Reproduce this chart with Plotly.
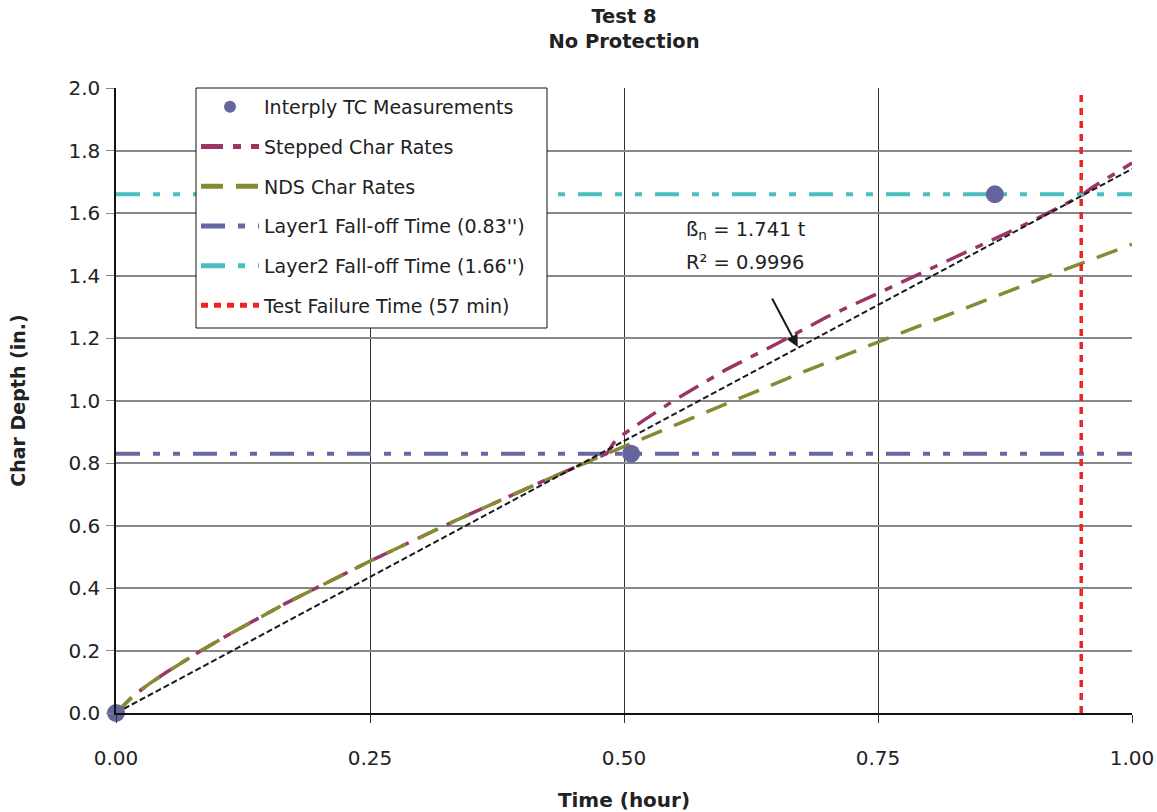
import plotly.graph_objects as go

# ---------------- data ----------------
tc_time = [0.0, 0.507, 0.865]
tc_depth = [0.0, 0.83, 1.66]

nds_time = [0.0, 0.017, 0.033, 0.05, 0.083, 0.117, 0.167, 0.25, 0.333, 0.417,
            0.483, 0.5, 0.583, 0.667, 0.75, 0.833, 0.917, 1.0]
nds_depth = [0.0, 0.055, 0.094, 0.131, 0.198, 0.262, 0.351, 0.486, 0.614, 0.737,
             0.83, 0.853, 0.967, 1.079, 1.187, 1.293, 1.398, 1.5]

step_time = [0.0, 0.017, 0.033, 0.05, 0.083, 0.117, 0.167, 0.25, 0.333, 0.417,
             0.483, 0.49, 0.5, 0.52, 0.55, 0.6, 0.65, 0.7, 0.75, 0.8, 0.85,
             0.9, 0.95, 0.96, 0.97, 1.0]
step_depth = [0.0, 0.055, 0.094, 0.131, 0.198, 0.262, 0.351, 0.486, 0.614, 0.737,
              0.83, 0.865, 0.893, 0.938, 1.002, 1.098, 1.181, 1.268, 1.343, 1.419,
              1.497, 1.571, 1.655, 1.68, 1.70, 1.76]

fit_time = [0.0, 1.0]
fit_depth = [0.0, 1.741]

layer1_depth = 0.83
layer2_depth = 1.66
failure_time = 0.95
x_range = [0.0, 1.0]
y_range = [0.0, 2.0]

x_ticks = [0.0, 0.25, 0.5, 0.75, 1.0]
x_tick_labels = ["0.00", "0.25", "0.50", "0.75", "1.00"]
y_ticks = [0.0, 0.2, 0.4, 0.6, 0.8, 1.0, 1.2, 1.4, 1.6, 1.8, 2.0]
y_tick_labels = ["0.0", "0.2", "0.4", "0.6", "0.8", "1.0", "1.2", "1.4", "1.6", "1.8", "2.0"]

# ---------------- styles ----------------
FONT = "DejaVu Sans"
C_MARK = "#65659e"
C_STEP = "#9c3468"
C_NDS = "#878a32"
C_L1 = "#6767a2"
C_L2 = "#4bbfbf"
C_FAIL = "#ee2222"

fig = go.Figure()

fig.add_trace(go.Scatter(
    x=step_time, y=step_depth, mode="lines", name="Stepped Char Rates",
    line=dict(color=C_STEP, width=3.5, dash="22px,10px,8px,10px"),
    legendrank=2, legendgroup="g2"))

fig.add_trace(go.Scatter(
    x=nds_time, y=nds_depth, mode="lines", name="NDS Char Rates",
    line=dict(color=C_NDS, width=3.5, dash="22px,13px"),
    legendrank=3, legendgroup="g3"))

fig.add_trace(go.Scatter(
    x=x_range, y=[layer1_depth, layer1_depth], mode="lines",
    name="Layer1 Fall-off Time (0.83'')",
    line=dict(color=C_L1, width=4, dash="24px,13px,7px,13px,7px,13px"),
    legendrank=4, legendgroup="g4"))

fig.add_trace(go.Scatter(
    x=x_range, y=[layer2_depth, layer2_depth], mode="lines",
    name="Layer2 Fall-off Time (1.66'')",
    line=dict(color=C_L2, width=4, dash="24px,13px,7px,13px,7px,13px"),
    legendrank=5, legendgroup="g5"))

fig.add_trace(go.Scatter(
    x=[failure_time, failure_time], y=[0.0, 1.98], mode="lines",
    name="Test Failure Time (57 min)",
    line=dict(color=C_FAIL, width=3.5, dash="7px,6px"),
    legendrank=6, legendgroup="g6"))

fig.add_trace(go.Scatter(
    x=fit_time, y=fit_depth, mode="lines", showlegend=False,
    line=dict(color="#1a1a1a", width=2, dash="6px,3px")))

fig.add_trace(go.Scatter(
    x=tc_time, y=tc_depth, mode="markers", name="Interply TC Measurements",
    marker=dict(color=C_MARK, size=18), cliponaxis=False,
    legendrank=1, legendgroup="g1"))

# annotations
fig.add_annotation(x=0.559, y=(713 - 230) / 312.5, xref="x", yref="y", xanchor="left",
                   text="ß<sub>n</sub> = 1.741 t", showarrow=False,
                   font=dict(family=FONT, size=19.5, color="#222222"))
fig.add_annotation(x=0.559, y=(713 - 262) / 312.5, xref="x", yref="y", xanchor="left",
                   text="R² = 0.9996", showarrow=False,
                   font=dict(family=FONT, size=19.5, color="#222222"))
fig.add_annotation(x=0.671, y=1.171, ax=0.645, ay=1.331, xref="x", yref="y",
                   axref="x", ayref="y", text="", showarrow=True,
                   arrowhead=2, arrowsize=1.2, arrowwidth=2, arrowcolor="#1a1a1a")

# legend frame (white box with black border) drawn under the legend entries
fig.add_shape(type="rect", xref="paper", yref="paper",
              x0=(196 - 116) / 1016, x1=(547 - 116) / 1016,
              y0=(713 - 328) / 625, y1=1.0,
              line=dict(color="#111111", width=1), fillcolor="white", layer="above")

fig.update_layout(
    width=1157, height=812,
    margin=dict(l=116, r=25, t=88, b=99, autoexpand=False),
    paper_bgcolor="white", plot_bgcolor="white",
    font=dict(family=FONT, size=19, color="#222222"),
    title=dict(text="<b>Test 8</b><br><b>No Protection</b>",
               x=0.5, xref="paper", xanchor="center",
               y=1 - 22.5 / 812, yref="container", yanchor="middle",
               font=dict(family=FONT, size=19.5, color="#222222")),
    legend=dict(x=(196 - 116) / 1016, y=1.0, xanchor="left", yanchor="top",
                bgcolor="rgba(0,0,0,0)", borderwidth=0,
                font=dict(family=FONT, size=19, color="#222222"),
                traceorder="grouped", tracegroupgap=12,
                itemwidth=58, itemsizing="constant"),
    showlegend=True,
)

fig.update_xaxes(
    range=x_range, tickvals=x_ticks, ticktext=x_tick_labels,
    showgrid=True, gridcolor="#333333", gridwidth=1,
    showline=True, linecolor="#111111", linewidth=1.5,
    ticks="outside", ticklen=8, tickcolor="#333333",
    ticklabelstandoff=18, zeroline=False, automargin=False,
    tickfont=dict(family=FONT, size=20, color="#222222"),
    title=dict(text="<b>Time (hour)</b>", standoff=24,
               font=dict(family=FONT, size=20, color="#222222")))

fig.update_yaxes(
    range=y_range, tickvals=y_ticks, ticktext=y_tick_labels,
    showgrid=True, gridcolor="#888888", gridwidth=1.5,
    showline=True, linecolor="#111111", linewidth=1.5,
    ticks="outside", ticklen=8, tickcolor="#888888",
    ticklabelstandoff=2, zeroline=False, automargin=False,
    tickfont=dict(family=FONT, size=20, color="#222222"),
    title=dict(text="<b>Char Depth (in.)</b>", standoff=38,
               font=dict(family=FONT, size=19, color="#222222")))

# remove the browser's default 8px page margin so the figure fills the window
fig.write_html("out.html",
               config={"displayModeBar": False},
               post_script="document.body.style.margin='0';"
                           "document.body.style.overflow='hidden';")
